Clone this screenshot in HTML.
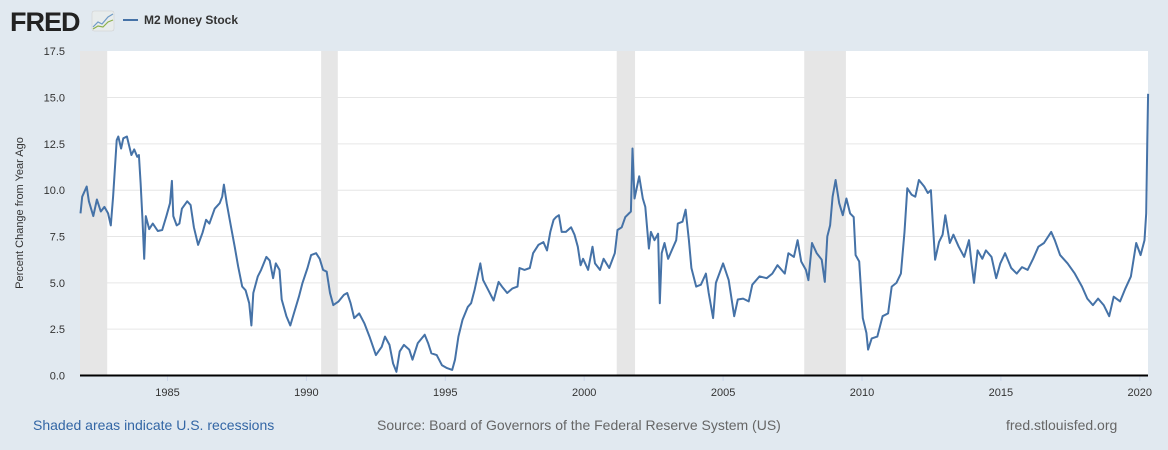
<!DOCTYPE html>
<html><head><meta charset="utf-8"><style>
html,body{margin:0;padding:0;background:#e1e9f0;}
svg{display:block;font-family:"Liberation Sans",Arial,sans-serif;}
</style></head><body>
<svg id="chart" width="1168" height="450" viewBox="0 0 1168 450">
<rect x="0" y="0" width="1168" height="450" fill="#e1e9f0"/>
<g>
<text x="10" y="31" font-size="27" font-weight="bold" fill="#222" letter-spacing="-1">FRED</text>
<rect x="92" y="11" width="22" height="20" rx="2" fill="#e8ecec" stroke="#ccc" stroke-width="0.5"/>
<polyline points="93,27 98,22 102,24 108,17 113,14" fill="none" stroke="#6f9ac6" stroke-width="1.2"/>
<polyline points="93,29 98,26 103,27 108,22 113,20" fill="none" stroke="#8cb04b" stroke-width="1.2"/>
</g>
<g>
<line x1="123" y1="20" x2="138" y2="20" stroke="#4572a7" stroke-width="2"/>
<text x="144" y="24" font-size="12" font-weight="bold" fill="#333">M2 Money Stock</text>
</g>
<rect x="80" y="51" width="1068" height="325" fill="#fff"/>
<g id="rec"></g>
<g id="grid"></g>
<g id="yt"></g>
<g id="xt"></g>
<path id="line" fill="none" stroke="#4572a7" stroke-width="2" stroke-linejoin="round"/>
<line x1="80" y1="375.5" x2="1148" y2="375.5" stroke="#000" stroke-width="2"/>
<text transform="translate(23,213) rotate(-90)" text-anchor="middle" font-size="11" fill="#333">Percent Change from Year Ago</text>
<text x="33" y="430" font-size="14" fill="#3366a5">Shaded areas indicate U.S. recessions</text>
<text x="377" y="430" font-size="14" fill="#666">Source: Board of Governors of the Federal Reserve System (US)</text>
<text x="1006" y="430" font-size="14" fill="#666">fred.stlouisfed.org</text>
</svg>
<script>
const yTicks=[0,2.5,5,7.5,10,12.5,15,17.5];
const yTickLabels=["0.0","2.5","5.0","7.5","10.0","12.5","15.0","17.5"];
const xTicks=[1985,1990,1995,2000,2005,2010,2015,2020];
const recStart=[1981.5,1990.53,2001.17,2007.92];
const recEnd=[1982.83,1991.13,2001.83,2009.42];
const years=[1981.87,1981.93,1982.09,1982.17,1982.33,1982.46,1982.6,1982.73,1982.86,1982.96,1983.04,1983.17,1983.23,1983.33,1983.41,1983.54,1983.7,1983.8,1983.91,1983.97,1984.03,1984.1,1984.16,1984.22,1984.34,1984.47,1984.65,1984.81,1984.96,1985.09,1985.16,1985.21,1985.33,1985.43,1985.52,1985.71,1985.83,1985.95,1986.1,1986.26,1986.39,1986.51,1986.7,1986.88,1986.97,1987.03,1987.13,1987.29,1987.42,1987.54,1987.69,1987.81,1987.94,1988.02,1988.09,1988.25,1988.37,1988.56,1988.68,1988.8,1988.9,1989.03,1989.11,1989.28,1989.42,1989.55,1989.73,1989.86,1990.04,1990.17,1990.35,1990.48,1990.6,1990.73,1990.85,1990.97,1991.16,1991.35,1991.47,1991.59,1991.72,1991.9,1992.09,1992.27,1992.5,1992.71,1992.83,1992.99,1993.12,1993.24,1993.36,1993.51,1993.7,1993.82,1994.01,1994.26,1994.38,1994.5,1994.69,1994.88,1995.06,1995.25,1995.35,1995.47,1995.62,1995.81,1995.93,1996.05,1996.18,1996.26,1996.36,1996.55,1996.74,1996.92,1997.04,1997.23,1997.42,1997.6,1997.67,1997.85,1998.04,1998.16,1998.35,1998.53,1998.66,1998.78,1998.9,1998.99,1999.09,1999.19,1999.34,1999.53,1999.65,1999.77,1999.87,1999.96,2000.14,2000.3,2000.39,2000.57,2000.7,2000.9,2001.1,2001.2,2001.35,2001.48,2001.68,2001.74,2001.81,2001.98,2002.11,2002.2,2002.33,2002.4,2002.53,2002.66,2002.72,2002.79,2002.89,2003.02,2003.18,2003.31,2003.37,2003.54,2003.65,2003.77,2003.86,2004.03,2004.2,2004.38,2004.48,2004.64,2004.74,2005.0,2005.2,2005.4,2005.53,2005.72,2005.92,2006.05,2006.31,2006.57,2006.77,2006.96,2007.22,2007.35,2007.55,2007.68,2007.81,2007.98,2008.07,2008.2,2008.37,2008.55,2008.66,2008.75,2008.85,2008.94,2009.05,2009.18,2009.31,2009.44,2009.57,2009.7,2009.77,2009.9,2010.03,2010.16,2010.22,2010.35,2010.55,2010.74,2010.94,2011.07,2011.24,2011.4,2011.53,2011.63,2011.79,2011.92,2012.05,2012.24,2012.37,2012.48,2012.54,2012.63,2012.77,2012.9,2013.0,2013.16,2013.29,2013.48,2013.68,2013.85,2013.94,2014.03,2014.16,2014.33,2014.46,2014.66,2014.83,2014.98,2015.15,2015.37,2015.57,2015.76,2015.96,2016.16,2016.35,2016.55,2016.81,2016.94,2017.13,2017.4,2017.66,2017.92,2018.11,2018.31,2018.5,2018.7,2018.9,2019.06,2019.29,2019.48,2019.68,2019.87,2020.03,2020.17,2020.23,2020.27,2020.3];
const values=[8.75,9.65,10.2,9.4,8.6,9.5,8.85,9.1,8.75,8.1,9.65,12.7,12.9,12.25,12.8,12.9,11.9,12.2,11.8,11.9,10.4,8.4,6.3,8.6,7.9,8.2,7.8,7.85,8.6,9.3,10.5,8.6,8.1,8.2,9.0,9.4,9.2,8.0,7.05,7.7,8.4,8.2,9.0,9.3,9.65,10.3,9.3,8.0,6.95,5.9,4.8,4.6,3.9,2.7,4.45,5.35,5.7,6.4,6.2,5.25,6.05,5.7,4.1,3.2,2.7,3.35,4.25,5.0,5.8,6.5,6.6,6.3,5.7,5.6,4.45,3.8,4.0,4.35,4.45,3.9,3.1,3.35,2.8,2.1,1.1,1.55,2.1,1.65,0.65,0.2,1.3,1.65,1.4,0.85,1.75,2.2,1.75,1.2,1.1,0.55,0.4,0.3,0.85,2.1,3.0,3.7,3.9,4.6,5.5,6.05,5.15,4.6,4.05,5.05,4.8,4.45,4.7,4.8,5.8,5.7,5.8,6.6,7.05,7.2,6.75,7.75,8.4,8.55,8.65,7.75,7.75,8.0,7.6,6.95,5.95,6.3,5.7,6.95,6.05,5.7,6.3,5.8,6.6,7.85,8.0,8.55,8.85,12.25,9.55,10.75,9.55,9.1,6.85,7.75,7.3,7.65,3.9,6.6,7.15,6.3,6.85,7.3,8.2,8.3,8.95,7.3,5.8,4.8,4.9,5.5,4.45,3.1,5.0,6.05,5.15,3.2,4.1,4.15,4.0,4.9,5.35,5.25,5.5,5.95,5.5,6.6,6.4,7.3,6.15,5.7,5.15,7.15,6.6,6.25,5.05,7.5,8.1,9.65,10.55,9.3,8.65,9.55,8.75,8.55,6.5,6.15,3.1,2.3,1.4,2.0,2.1,3.2,3.35,4.8,5.0,5.5,7.75,10.1,9.75,9.65,10.55,10.2,9.85,10.0,8.4,6.25,7.2,7.6,8.65,7.15,7.6,6.95,6.4,7.3,6.05,5.0,6.75,6.3,6.75,6.4,5.25,6.05,6.6,5.8,5.5,5.85,5.7,6.3,6.95,7.15,7.75,7.3,6.5,6.05,5.5,4.8,4.15,3.8,4.15,3.8,3.2,4.25,4.0,4.7,5.35,7.15,6.5,7.3,8.75,12.7,15.2];

const NS='http://www.w3.org/2000/svg';
const X0=80,X1=1148;
function xs(yr){return 167.5+(yr-1985)*27.78;}
function ys(v){return 375.5-v*18.53;}
function mk(tag,attrs,parent){const e=document.createElementNS(NS,tag);for(const k in attrs)e.setAttribute(k,attrs[k]);parent.appendChild(e);return e;}
const rec=document.getElementById('rec');
for(let i=0;i<recStart.length;i++){
  const a=Math.max(X0,xs(recStart[i])),b=Math.min(X1,xs(recEnd[i]));
  const r=mk('rect',{x:a,y:51,width:b-a,height:324.5,fill:'#e6e6e6'},rec);
  
  
}
const grid=document.getElementById('grid'),yt=document.getElementById('yt');
yTicks.forEach((v,i)=>{
  if(v>0&&v<17.5){const l=mk('line',{x1:X0,x2:X1,y1:ys(v),y2:ys(v),stroke:'#e6e6e6','stroke-width':1},grid);
  
  }
  const t=mk('text',{x:65,y:ys(v)+4,'text-anchor':'end','font-size':11,fill:'#333'},yt);
  t.textContent=yTickLabels[i];
  
  
});
const xt=document.getElementById('xt');
xTicks.forEach(yr=>{
  const l=mk('line',{x1:xs(yr),x2:xs(yr),y1:376,y2:381,stroke:'#ccd6eb'},xt);
  
  
  const t=mk('text',{x:xs(yr),y:396,'text-anchor':'middle','font-size':11,fill:'#333'},xt);
  t.textContent=String(yr);
  
  
});
let d='';
years.forEach((yr,i)=>{d+=(i?'L':'M')+xs(yr).toFixed(1)+','+ys(values[i]).toFixed(1);});
document.getElementById('line').setAttribute('d',d);
</script>
</body></html>
